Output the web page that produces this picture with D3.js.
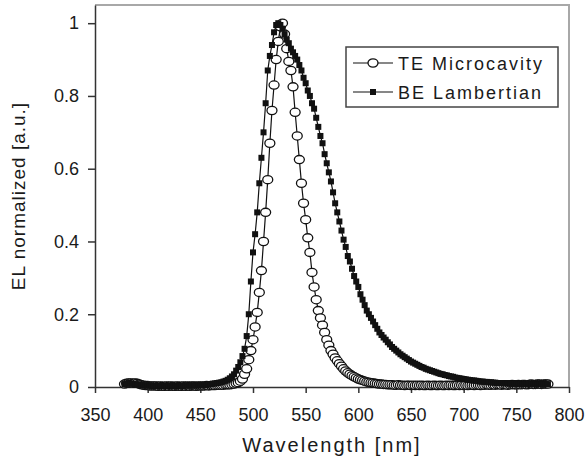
<!DOCTYPE html>
<html>
<head>
<meta charset="utf-8">
<script src="https://cdn.jsdelivr.net/npm/d3@7"></script>
<style>
  body { margin: 0; background: #fff; }
  svg text { font-family: "Liberation Sans", Arial, sans-serif; fill: #1a1a1a; }
</style>
</head>
<body>
<div id="viz"></div>
<script>
// wavelength grid, 2 nm steps
var wlStart = 378, wlStep = 2;

var teValues = [
  0.008, 0.010, 0.011, 0.011, 0.010, 0.011, 0.010, 0.008, 0.006, 0.005, 0.004,        // 378-398
  0.004, 0.003, 0.003, 0.003, 0.003, 0.002, 0.003, 0.002, 0.002, 0.003,               // 400-418
  0.002, 0.003, 0.002, 0.002, 0.003, 0.002, 0.002, 0.003, 0.002, 0.003,               // 420-438
  0.002, 0.003, 0.003, 0.002, 0.003, 0.003, 0.003, 0.003, 0.004, 0.003,               // 440-458
  0.004, 0.004, 0.004, 0.005, 0.005, 0.005, 0.005, 0.006, 0.006, 0.006,               // 460-478
  0.007, 0.008, 0.010, 0.012, 0.016, 0.022, 0.035, 0.050, 0.075, 0.100,               // 480-498
  0.130, 0.165, 0.205, 0.260, 0.320, 0.400, 0.480, 0.570, 0.670, 0.760,               // 500-518
  0.830, 0.900, 0.950, 0.990, 1.000, 0.970, 0.930, 0.895, 0.870, 0.825,               // 520-538
  0.755, 0.690, 0.625, 0.560, 0.505, 0.460, 0.410, 0.370, 0.315, 0.275,               // 540-558
  0.240, 0.210, 0.190, 0.170, 0.150, 0.130, 0.115, 0.100, 0.090, 0.080,               // 560-578
  0.072, 0.064, 0.057, 0.050, 0.044, 0.039, 0.035, 0.031, 0.028, 0.025,               // 580-598
  0.022, 0.020, 0.018, 0.016, 0.014, 0.013, 0.012, 0.011, 0.010, 0.009,               // 600-618
  0.008, 0.008, 0.007, 0.007, 0.006, 0.006, 0.006, 0.005, 0.005, 0.006,               // 620-638
  0.005, 0.005, 0.004, 0.005, 0.005, 0.004, 0.005, 0.004, 0.005, 0.004,               // 640-658
  0.005, 0.004, 0.004, 0.005, 0.004, 0.004, 0.005, 0.004, 0.004, 0.005,               // 660-678
  0.004, 0.004, 0.005, 0.004, 0.005, 0.004, 0.004, 0.005, 0.004, 0.005,               // 680-698
  0.004, 0.005, 0.004, 0.005, 0.005, 0.004, 0.005, 0.005, 0.004, 0.005,               // 700-718
  0.005, 0.006, 0.005, 0.005, 0.006, 0.005, 0.006, 0.006, 0.005, 0.006,               // 720-738
  0.006, 0.005, 0.006, 0.007, 0.006, 0.006, 0.007, 0.006, 0.007, 0.007,               // 740-758
  0.006, 0.007, 0.008, 0.007, 0.007, 0.008, 0.008, 0.007, 0.008, 0.008,               // 760-778
  0.008                                                                                // 780
];

var beValues = [
  0.008, 0.010, 0.011, 0.010, 0.009, 0.008, 0.007, 0.006, 0.005, 0.005, 0.004,        // 378-398
  0.004, 0.004, 0.003, 0.003, 0.003, 0.003, 0.003, 0.003, 0.003, 0.003,               // 400-418
  0.003, 0.003, 0.003, 0.003, 0.003, 0.003, 0.003, 0.003, 0.004, 0.004,               // 420-438
  0.004, 0.004, 0.004, 0.004, 0.004, 0.005, 0.005, 0.005, 0.006, 0.007,               // 440-458
  0.008, 0.009, 0.010, 0.011, 0.012, 0.013, 0.015, 0.017, 0.020, 0.024,               // 460-478
  0.029, 0.035, 0.045, 0.055, 0.068, 0.085, 0.105, 0.140, 0.200, 0.290,               // 480-498
  0.370, 0.420, 0.480, 0.560, 0.630, 0.700, 0.780, 0.870, 0.910, 0.940,               // 500-518
  0.975, 0.995, 1.000, 0.995, 0.985, 0.970, 0.955, 0.945, 0.930, 0.920,               // 520-538
  0.910, 0.900, 0.885, 0.870, 0.850, 0.835, 0.815, 0.800, 0.780, 0.765,               // 540-558
  0.740, 0.715, 0.690, 0.670, 0.640, 0.615, 0.590, 0.565, 0.535, 0.505,               // 560-578
  0.480, 0.455, 0.430, 0.405, 0.385, 0.360, 0.345, 0.325, 0.305, 0.290,               // 580-598
  0.275, 0.255, 0.240, 0.225, 0.210, 0.200, 0.190, 0.180, 0.170, 0.160,               // 600-618
  0.150, 0.143, 0.136, 0.130, 0.123, 0.117, 0.110, 0.105, 0.100, 0.095,               // 620-638
  0.090, 0.086, 0.082, 0.078, 0.074, 0.070, 0.067, 0.064, 0.061, 0.058,               // 640-658
  0.055, 0.053, 0.050, 0.048, 0.046, 0.044, 0.042, 0.040, 0.038, 0.036,               // 660-678
  0.035, 0.033, 0.032, 0.030, 0.029, 0.028, 0.026, 0.025, 0.024, 0.023,               // 680-698
  0.022, 0.021, 0.020, 0.019, 0.018, 0.018, 0.017, 0.016, 0.015, 0.015,               // 700-718
  0.014, 0.014, 0.013, 0.013, 0.012, 0.012, 0.011, 0.011, 0.011, 0.010,               // 720-738
  0.010, 0.010, 0.009, 0.009, 0.009, 0.009, 0.008, 0.009, 0.008, 0.008,               // 740-758
  0.008, 0.009, 0.008, 0.008, 0.009, 0.008, 0.008, 0.009, 0.008, 0.008,               // 760-778
  0.008                                                                                // 780
];

var xTicks = [350, 400, 450, 500, 550, 600, 650, 700, 750, 800];
var yTicks = [0, 0.2, 0.4, 0.6, 0.8, 1];
var seriesNames = ["TE Microcavity", "BE Lambertian"];

var width = 587, height = 460;
var margin = { top: 5, right: 18, bottom: 73, left: 95 };

var x = d3.scaleLinear().domain([350, 800]).range([margin.left, width - margin.right]);
var y = d3.scaleLinear().domain([0, 1.05]).range([height - margin.bottom, margin.top]);

function toPoints(vals) {
  return vals.map(function(v, i) { return { wl: wlStart + i * wlStep, v: v }; });
}
var teData = toPoints(teValues),
    beData = toPoints(beValues);

var svg = d3.select('#viz').append('svg')
  .attr('width', width)
  .attr('height', height);

// plot frame (top / right in grey)
svg.append('path')
  .attr('d', 'M' + x(350) + ',' + y(1.05) + 'H' + x(800) + 'V' + y(0))
  .attr('fill', 'none')
  .attr('stroke', '#a8a8a8')
  .attr('stroke-width', 2);

var xAxis = d3.axisBottom(x).tickValues(xTicks).tickSize(6).tickSizeOuter(0).tickPadding(15);
var yAxis = d3.axisLeft(y).tickValues(yTicks).tickSize(7).tickSizeOuter(0).tickPadding(9)
  .tickFormat(function(d) { return String(d); });

var gx = svg.append('g')
  .attr('transform', 'translate(0,' + y(0) + ')')
  .call(xAxis);
var gy = svg.append('g')
  .attr('transform', 'translate(' + margin.left + ',0)')
  .call(yAxis);

[gx, gy].forEach(function(g) {
  g.selectAll('path, line').attr('stroke', '#333').attr('stroke-width', 1.5);
  g.selectAll('text').style('font-size', '18px').attr('fill', '#1a1a1a')
    .style('font-family', '"Liberation Sans", Arial, sans-serif');
});

svg.append('text')
  .attr('x', (x(350) + x(800)) / 2)
  .attr('y', 452)
  .attr('text-anchor', 'middle')
  .style('font-size', '20px')
  .style('letter-spacing', '2px')
  .text('Wavelength [nm]');

svg.append('text')
  .attr('transform', 'translate(25,' + (y(0) + y(1.05)) / 2 + ') rotate(-90)')
  .attr('text-anchor', 'middle')
  .style('font-size', '19px')
  .style('letter-spacing', '1px')
  .text('EL normalized [a.u.]');

var line = d3.line()
  .x(function(d) { return x(d.wl); })
  .y(function(d) { return y(d.v); });

// TE microcavity: open circles
svg.append('path').datum(teData)
  .attr('d', line).attr('fill', 'none').attr('stroke', '#111').attr('stroke-width', 1.2);
svg.append('g').selectAll('ellipse').data(teData)
  .enter().append('ellipse')
  .attr('cx', function(d) { return x(d.wl); })
  .attr('cy', function(d) { return y(d.v); })
  .attr('rx', 5).attr('ry', 4.1)
  .attr('fill', '#fff').attr('stroke', '#111').attr('stroke-width', 1.3);

// BE lambertian: filled squares
svg.append('path').datum(beData)
  .attr('d', line).attr('fill', 'none').attr('stroke', '#111').attr('stroke-width', 1.2);
svg.append('g').selectAll('rect').data(beData)
  .enter().append('rect')
  .attr('x', function(d) { return x(d.wl) - 3; })
  .attr('y', function(d) { return y(d.v) - 3; })
  .attr('width', 6).attr('height', 6)
  .attr('fill', '#111');

// legend
var legend = svg.append('g').attr('transform', 'translate(346,47)');
legend.append('rect')
  .attr('width', 212).attr('height', 60)
  .attr('fill', '#fff').attr('stroke', '#444').attr('stroke-width', 1.5);

var rows = legend.selectAll('g.row').data(seriesNames)
  .enter().append('g')
  .attr('transform', function(d, i) { return 'translate(0,' + (16 + i * 29) + ')'; });
rows.append('line')
  .attr('x1', 7).attr('x2', 47).attr('y1', 0).attr('y2', 0)
  .attr('stroke', '#111').attr('stroke-width', 1.2);
rows.filter(function(d, i) { return i === 0; }).append('ellipse')
  .attr('cx', 27).attr('cy', 0).attr('rx', 5).attr('ry', 4.1)
  .attr('fill', '#fff').attr('stroke', '#111').attr('stroke-width', 1.3);
rows.filter(function(d, i) { return i === 1; }).append('rect')
  .attr('x', 24).attr('y', -3).attr('width', 6).attr('height', 6)
  .attr('fill', '#111');
rows.append('text')
  .attr('x', 52).attr('y', 6.5)
  .style('font-size', '18px')
  .style('letter-spacing', '2px')
  .text(function(d) { return d; });
</script>
</body>
</html>
